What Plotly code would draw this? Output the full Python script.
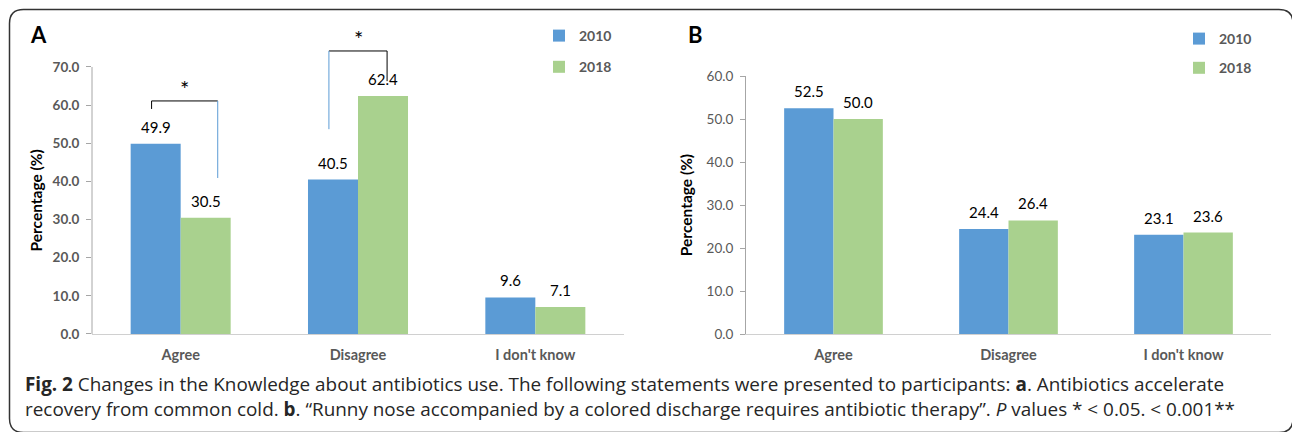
import plotly.graph_objects as go

# ---- data -------------------------------------------------------------
categories = ["Agree", "Disagree", "I don't know"]
years = ["2010", "2018"]

# Panel A: "Antibiotics accelerate recovery from common cold"
panel_a_2010 = [49.9, 40.5, 9.6]
panel_a_2018 = [30.5, 62.4, 7.1]

# Panel B: "Runny nose accompanied by a colored discharge requires antibiotic therapy"
panel_b_2010 = [52.5, 24.4, 23.1]
panel_b_2018 = [50.0, 26.4, 23.6]

# Significance brackets in panel A (values on the percentage scale)
sig_categories = ["Agree", "Disagree"]
sig_top = [61.1, 74.2]
sig_left_end = [59.0, 53.7]
sig_right_end = [40.9, 66.3]
sig_label = ["*", "*"]

a_ticks = [0, 10, 20, 30, 40, 50, 60, 70]
b_ticks = [0, 10, 20, 30, 40, 50, 60]
y_title = "Percentage (%)"

# ---- styling -----------------------------------------------------------
W, H = 1292, 432
BLUE = "#5B9BD5"
GREEN = "#A9D18E"
GREY_TXT = "#595959"
AXIS_GREY = "#A6A6A6"
XLINE_GREY = "#D0D0D0"
FONT = "Lato, Carlito, 'Open Sans', sans-serif"
CAP_FONT = "'Open Sans', 'Noto Sans', sans-serif"
BARGAP = 0.436
BAR_W = (1 - BARGAP) / 2

# bracket leg offsets from the category centre (category units)
sig_left_off = [-0.164, -0.164]
sig_right_off = [0.209, 0.164]
sig_left_color = ["black", BLUE]
sig_right_color = [BLUE, "black"]


def fx(px):
    return px / W


def fy(py):
    return 1 - py / H


# plot-area geometry (pixels)
A_X0, A_X1 = 92, 624
B_X0, B_X1 = 746, 1271
BASE_Y = 334
A_TOP70 = 67          # pixel row of 70 on panel A
A_RANGE = [0, 80]     # extra head-room for the brackets
A_TOP = BASE_Y - (BASE_Y - A_TOP70) * A_RANGE[1] / 70
B_TOP = 76

fig = go.Figure()

series = [
    ("x", "y", "legend", panel_a_2010, panel_a_2018),
    ("x2", "y2", "legend2", panel_b_2010, panel_b_2018),
]
for xa, ya, lg, v2010, v2018 in series:
    for name, vals, col in ((years[0], v2010, BLUE), (years[1], v2018, GREEN)):
        fig.add_trace(go.Bar(
            x=categories, y=vals, name=name, marker=dict(color=col, line=dict(width=0)),
            xaxis=xa, yaxis=ya, legend=lg, legendgroup=lg + name,
            hovertemplate="%{x}: %{y:.1f}%<extra>" + name + "</extra>",
        ))

annotations = []

# value labels above each bar
for xa, ya, v2010, v2018 in (("x", "y", panel_a_2010, panel_a_2018),
                             ("x2", "y2", panel_b_2010, panel_b_2018)):
    for off, vals in ((-BAR_W / 2, v2010), (BAR_W / 2, v2018)):
        for i, v in enumerate(vals):
            annotations.append(dict(
                x=i + off, y=v, xref=xa, yref=ya, text=f"{v:.1f}",
                showarrow=False, yanchor="bottom", yshift=6,
                font=dict(family=FONT, size=15, color="black"),
            ))

# significance brackets
shapes = []
for k, cat in enumerate(sig_categories):
    c = categories.index(cat)
    xl, xr = c + sig_left_off[k], c + sig_right_off[k]
    shapes.append(dict(type="line", xref="x", yref="y", x0=xl, x1=xr,
                       y0=sig_top[k], y1=sig_top[k], line=dict(color="black", width=1)))
    shapes.append(dict(type="line", xref="x", yref="y", x0=xl, x1=xl,
                       y0=sig_top[k], y1=sig_left_end[k],
                       line=dict(color=sig_left_color[k], width=1)))
    shapes.append(dict(type="line", xref="x", yref="y", x0=xr, x1=xr,
                       y0=sig_top[k], y1=sig_right_end[k],
                       line=dict(color=sig_right_color[k], width=1)))
    annotations.append(dict(
        x=(xl + xr) / 2, y=sig_top[k], xref="x", yref="y", text=sig_label[k],
        showarrow=False, yanchor="bottom", yshift=-3,
        font=dict(family=FONT, size=22, color="black"),
    ))

# panel A value axis line (stops at 70) and its title centred on 0-70
shapes.append(dict(type="line", xref="paper", yref="y", x0=fx(A_X0), x1=fx(A_X0),
                   y0=a_ticks[0], y1=a_ticks[-1], line=dict(color=AXIS_GREY, width=1)))
annotations.append(dict(
    x=fx(36), y=(a_ticks[0] + a_ticks[-1]) / 2, xref="paper", yref="y",
    text=f"<b>{y_title}</b>", textangle=-90, showarrow=False,
    xanchor="center", yanchor="middle",
    font=dict(family=FONT, size=15.5, color="black"),
))

# rounded frame around the figure
r = 14
L, T, R, B = 9.5, 9.5, 1293, 432.5
frame = (f"M {fx(L)},{fy(T + r)} Q {fx(L)},{fy(T)} {fx(L + r)},{fy(T)} "
         f"L {fx(R - r)},{fy(T)} Q {fx(R)},{fy(T)} {fx(R)},{fy(T + r)} "
         f"L {fx(R)},{fy(B - r)} Q {fx(R)},{fy(B)} {fx(R - r)},{fy(B)} "
         f"L {fx(L + r)},{fy(B)} Q {fx(L)},{fy(B)} {fx(L)},{fy(B - r)} Z")
shapes.append(dict(type="path", xref="paper", yref="paper", path=frame,
                   line=dict(color="#333333", width=1.5)))

# panel letters
for letter, px in (("A", 28), ("B", 686)):
    annotations.append(dict(
        x=fx(px), y=fy(35), xref="paper", yref="paper", text=f"<b>{letter}</b>",
        showarrow=False, xanchor="left", yanchor="middle",
        font=dict(family=FONT, size=22, color="black"),
    ))

# caption
caption = [
    "<b>Fig. 2</b> Changes in the Knowledge about antibiotics use. The following statements "
    "were presented to participants: <b>a</b>. Antibiotics accelerate",
    "recovery from common cold. <b>b</b>. “Runny nose accompanied by a colored discharge "
    "requires antibiotic therapy”. <i>P</i> values * &lt; 0.05. &lt; 0.001**",
]
for line, py in zip(caption, (384, 409)):
    annotations.append(dict(
        x=fx(23), y=fy(py), xref="paper", yref="paper", text=line,
        showarrow=False, xanchor="left", yanchor="middle", align="left",
        font=dict(family=CAP_FONT, size=18.9, color="#262626"),
    ))

cat_axis = dict(
    type="category", range=[-0.5, 2.5], showline=True, linecolor=XLINE_GREY,
    linewidth=1, ticks="", showgrid=False, zeroline=False, ticklabelstandoff=8,
    tickfont=dict(family=FONT, size=14.5, color=GREY_TXT, weight="bold"),
    fixedrange=True,
)
val_axis = dict(
    showgrid=False, zeroline=False, ticks="outside", ticklen=5, tickcolor=AXIS_GREY,
    tickwidth=1, fixedrange=True, ticklabelstandoff=4,
)

fig.update_layout(
    width=W, height=H, autosize=False,
    margin=dict(l=0, r=0, t=0, b=0, pad=0, autoexpand=False),
    paper_bgcolor="white", plot_bgcolor="white",
    barmode="group", bargap=BARGAP, bargroupgap=0,
    font=dict(family=FONT, color=GREY_TXT),
    xaxis=dict(cat_axis, domain=[fx(A_X0), fx(A_X1)], anchor="y"),
    xaxis2=dict(cat_axis, domain=[fx(B_X0), fx(B_X1)], anchor="y2"),
    yaxis=dict(
        val_axis, domain=[fy(BASE_Y), fy(A_TOP)], range=A_RANGE, anchor="x",
        showline=False, tickvals=a_ticks, ticktext=[f"{t:.1f}" for t in a_ticks],
        tickfont=dict(family=FONT, size=13.5, color=GREY_TXT, weight="bold"),
    ),
    yaxis2=dict(
        val_axis, domain=[fy(BASE_Y), fy(B_TOP)], range=[0, 60], anchor="x2",
        showline=True, linecolor=AXIS_GREY, linewidth=1,
        tickvals=b_ticks, ticktext=[f"{t:.1f}" for t in b_ticks],
        tickfont=dict(family=FONT, size=13.5, color=GREY_TXT),
        title=dict(text=f"<b>{y_title}</b>", standoff=10,
                   font=dict(family=FONT, size=15.5, color="black")),
    ),
    legend=dict(
        x=fx(539), y=fy(20), xanchor="left", yanchor="top",
        traceorder="grouped", tracegroupgap=10, bgcolor="rgba(0,0,0,0)",
        font=dict(family=FONT, size=14, color=GREY_TXT, weight="bold"),
    ),
    legend2=dict(
        x=fx(1179), y=fy(23), xanchor="left", yanchor="top",
        traceorder="grouped", tracegroupgap=8, bgcolor="rgba(0,0,0,0)",
        font=dict(family=FONT, size=14, color=GREY_TXT, weight="bold"),
    ),
    shapes=shapes,
    annotations=annotations,
)

fig.write_html("out.html")
